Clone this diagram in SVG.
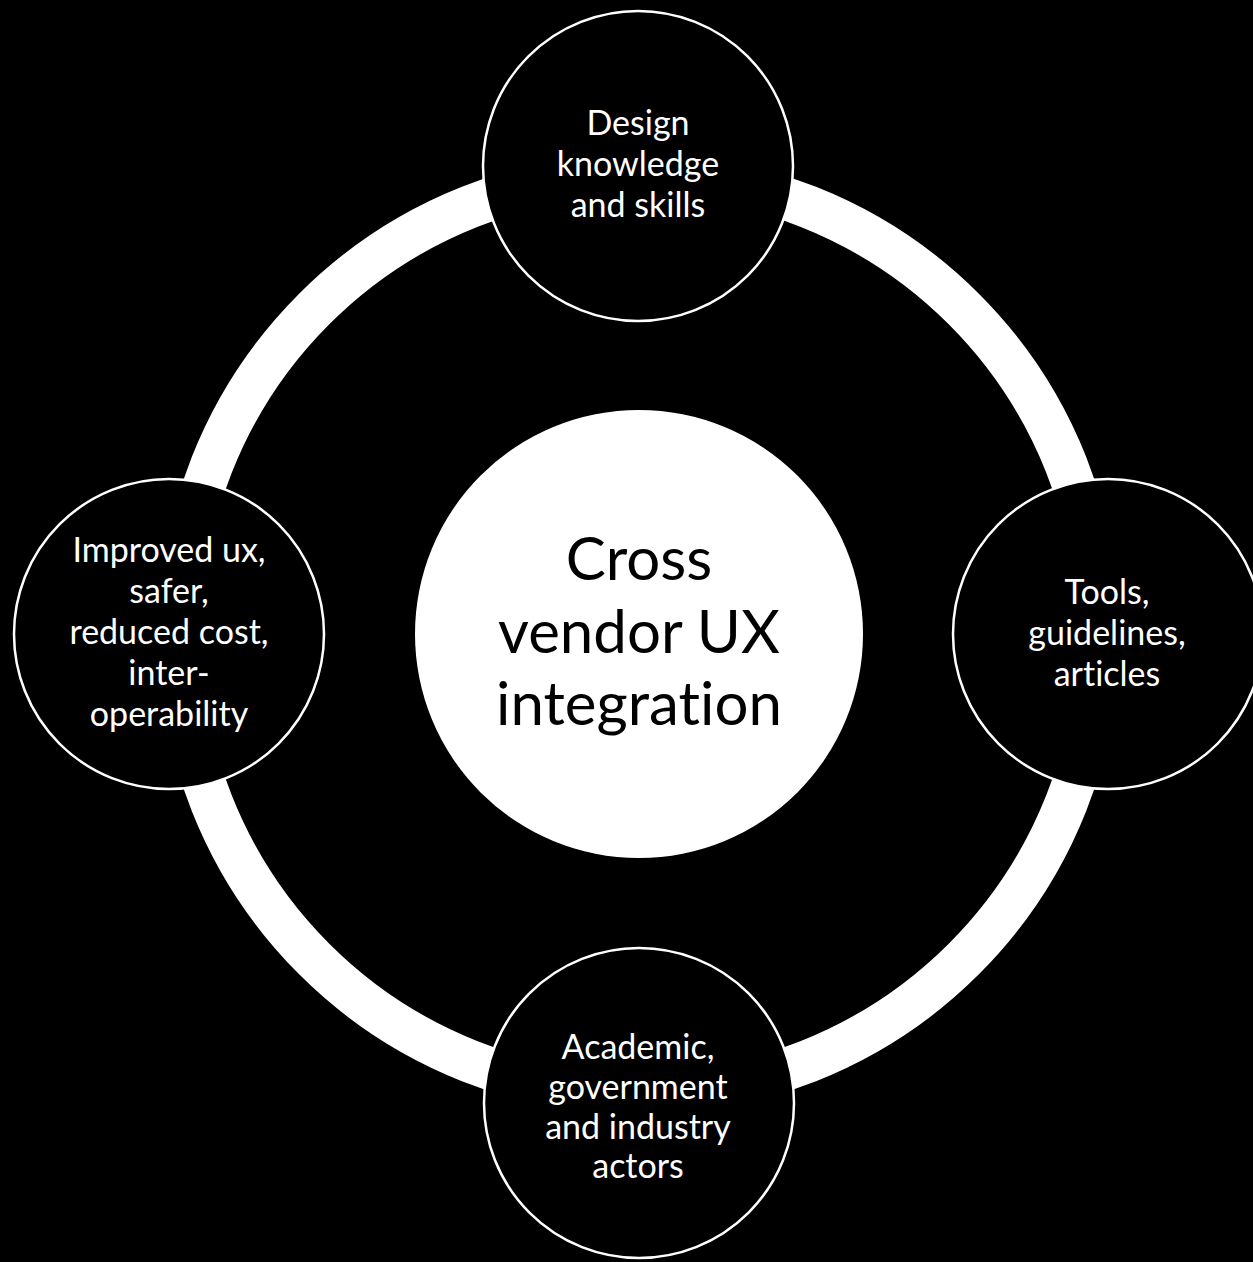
<svg xmlns="http://www.w3.org/2000/svg" width="1253" height="1262" viewBox="0 0 1253 1262">
<style>
.sat{fill:#000;stroke:#fff;stroke-width:2.5}
.t{font-family:Lato,"Liberation Sans",sans-serif;fill:#fff;text-anchor:middle;font-size:34px;font-variant-ligatures:none}
.c{font-family:Lato,"Liberation Sans",sans-serif;fill:#000;text-anchor:middle;font-size:60px;font-variant-ligatures:none}
</style>
<rect width="1253" height="1262" fill="#000"/>
<g id="connectors">
<circle cx="639" cy="634" r="459.5" fill="none" stroke="#fff" stroke-width="43"/>
</g>
<g id="center">
<circle cx="639" cy="634" r="224" fill="#fff"/>
<text class="c" x="639"><tspan x="639" y="580">Cross</tspan><tspan x="639" y="653">vendor UX</tspan><tspan x="639" y="725">integration</tspan></text>
</g>
<g id="top">
<circle class="sat" cx="638" cy="166" r="155"/>
<text class="t"><tspan x="638" y="135">Design</tspan><tspan x="638" y="176">knowledge</tspan><tspan x="638" y="217">and skills</tspan></text>
</g>
<g id="right">
<circle class="sat" cx="1108" cy="634" r="155"/>
<text class="t"><tspan x="1107" y="604">Tools,</tspan><tspan x="1107" y="645">guidelines,</tspan><tspan x="1107" y="686">articles</tspan></text>
</g>
<g id="bottom">
<circle class="sat" cx="639" cy="1103" r="155"/>
<text class="t"><tspan x="638" y="1059">Academic,</tspan><tspan x="638" y="1099">government</tspan><tspan x="638" y="1139">and industry</tspan><tspan x="638" y="1178">actors</tspan></text>
</g>
<g id="left">
<circle class="sat" cx="169" cy="634" r="155"/>
<text class="t"><tspan x="169" y="562">Improved ux,</tspan><tspan x="169" y="603">safer,</tspan><tspan x="169" y="644">reduced cost,</tspan><tspan x="169" y="685">inter-</tspan><tspan x="169" y="726">operability</tspan></text>
</g>
</svg>
